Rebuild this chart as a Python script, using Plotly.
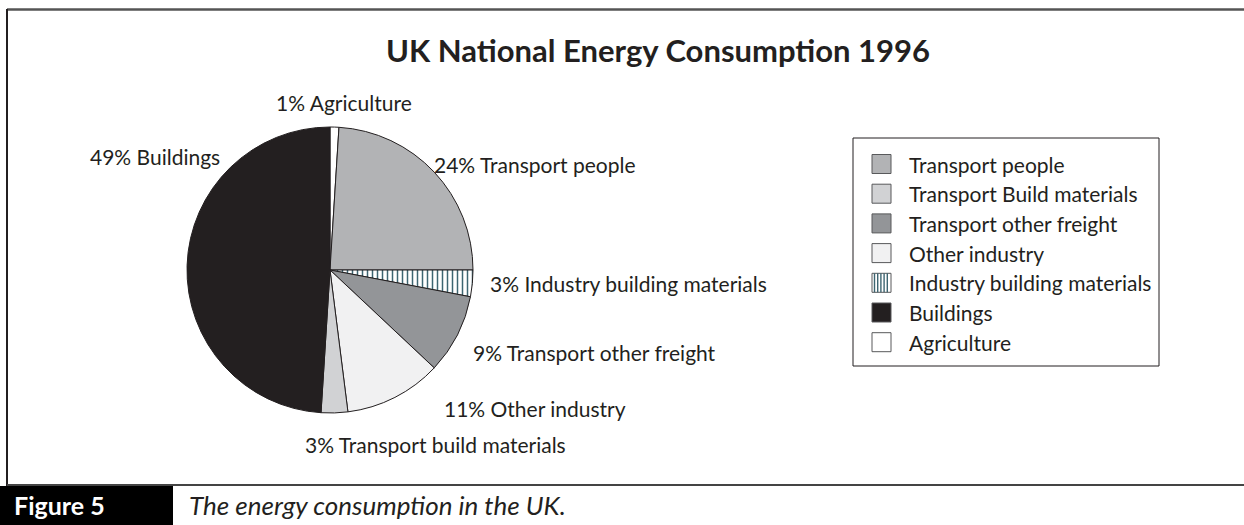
import plotly.graph_objects as go

W, H = 1244, 525

# ---- data ----
slice_labels = ["Agriculture", "Transport people", "Industry building materials",
                "Transport other freight", "Other industry",
                "Transport build materials", "Buildings"]
slice_values = [1, 24, 3, 9, 11, 3, 49]
slice_colors = ["#ffffff", "#b2b3b5", "#ffffff", "#939598", "#f1f1f2", "#d1d2d4", "#231f20"]
slice_patterns = ["", "", "|", "", "", "", ""]

legend_labels = ["Transport people", "Transport Build materials", "Transport other freight",
                 "Other industry", "Industry building materials", "Buildings", "Agriculture"]
legend_colors = ["#b2b3b5", "#d1d2d4", "#939598", "#f1f1f2", None, "#231f20", "#ffffff"]

title_text = "UK National Energy Consumption 1996"
fig_label = "Figure 5"
caption = "The energy consumption in the UK."

FONT = "Lato"
TXT = "#231f20"
HATCH = "#3d6571"
LBL = 21

def px(x):
    return x / W

def py(y):
    return 1 - y / H

fig = go.Figure()

cx, cy, r = 330, 270, 143
fig.add_trace(go.Pie(
    labels=slice_labels, values=slice_values, sort=False, direction="clockwise",
    rotation=0, textinfo="none", hoverinfo="label+percent", showlegend=False,
    marker=dict(colors=slice_colors, line=dict(color=TXT, width=1),
                pattern=dict(shape=slice_patterns, fgcolor=HATCH, bgcolor="#ffffff",
                             size=5, solidity=0.3)),
    domain=dict(x=[px(cx - r), px(cx + r)], y=[py(cy + r), py(cy - r)]),
))

annotations = []
shapes = []

# title
annotations.append(dict(text=f"<b>{title_text}</b>", x=px(658), y=py(50), xref="paper", yref="paper",
                        showarrow=False, xanchor="center", yanchor="middle",
                        font=dict(family=FONT, size=31, color=TXT)))

# slice labels (positions are layout)
label_pos = {
    "Agriculture": (274, 102),
    "Buildings": (88, 156),
    "Transport people": (432, 164),
    "Industry building materials": (488, 283),
    "Transport other freight": (471, 352),
    "Other industry": (442, 408),
    "Transport build materials": (303, 444),
}
for lab, val in zip(slice_labels, slice_values):
    x, y = label_pos[lab]
    annotations.append(dict(text=f"{val}% {lab}", x=px(x), y=py(y), xref="paper", yref="paper",
                            showarrow=False, xanchor="left", yanchor="middle",
                            font=dict(family=FONT, size=LBL, color=TXT)))

# legend box
shapes.append(dict(type="rect", xref="paper", yref="paper", x0=px(853), x1=px(1159),
                   y0=py(366), y1=py(138), line=dict(color=TXT, width=1), fillcolor="rgba(0,0,0,0)"))
row_y0, row_dy = 164, 29.7
sq = 19
for i, (lab, col) in enumerate(zip(legend_labels, legend_colors)):
    yc = row_y0 + i * row_dy
    x0, x1 = 872, 872 + sq
    y0, y1 = yc - sq / 2, yc + sq / 2
    if col is None:
        shapes.append(dict(type="rect", xref="paper", yref="paper", x0=px(x0), x1=px(x1),
                           y0=py(y1), y1=py(y0), line=dict(color="#58595b", width=1), fillcolor="#ffffff"))
        xx = x0 + 2.5
        while xx < x1 - 1:
            shapes.append(dict(type="line", xref="paper", yref="paper", x0=px(xx), x1=px(xx),
                               y0=py(y1), y1=py(y0), line=dict(color=HATCH, width=1.4)))
            xx += 3.2
    else:
        shapes.append(dict(type="rect", xref="paper", yref="paper", x0=px(x0), x1=px(x1),
                           y0=py(y1), y1=py(y0), line=dict(color="#58595b", width=1), fillcolor=col))
    annotations.append(dict(text=lab, x=px(907), y=py(yc), xref="paper", yref="paper",
                            showarrow=False, xanchor="left", yanchor="middle",
                            font=dict(family=FONT, size=LBL, color=TXT)))

# outer frame
shapes.append(dict(type="line", xref="paper", yref="paper", x0=px(7), x1=px(1244), y0=py(9.5), y1=py(9.5),
                   line=dict(color="#555555", width=2.5)))
shapes.append(dict(type="line", xref="paper", yref="paper", x0=px(7), x1=px(7), y0=py(9), y1=py(486),
                   line=dict(color="#231f20", width=2)))
shapes.append(dict(type="line", xref="paper", yref="paper", x0=px(7), x1=px(1244), y0=py(485), y1=py(485),
                   line=dict(color="#444444", width=2)))

# caption bar
shapes.append(dict(type="rect", xref="paper", yref="paper", x0=0, x1=px(173), y0=0, y1=py(486),
                   line=dict(width=0), fillcolor="#000000"))
annotations.append(dict(text=f"<b>{fig_label}</b>", x=px(12), y=py(505), xref="paper", yref="paper",
                        showarrow=False, xanchor="left", yanchor="middle",
                        font=dict(family=FONT, size=25, color="#ffffff")))
annotations.append(dict(text=f"<i>{caption}</i>", x=px(187), y=py(505), xref="paper", yref="paper",
                        showarrow=False, xanchor="left", yanchor="middle",
                        font=dict(family=FONT, size=26, color=TXT)))

fig.update_layout(width=W, height=H, margin=dict(l=0, r=0, t=0, b=0),
                  paper_bgcolor="#ffffff", plot_bgcolor="#ffffff",
                  shapes=shapes, annotations=annotations, showlegend=False)

fig.write_html("out.html", config={"displayModeBar": False},
               post_script="document.body.style.margin='0';document.body.style.overflow='hidden';")
